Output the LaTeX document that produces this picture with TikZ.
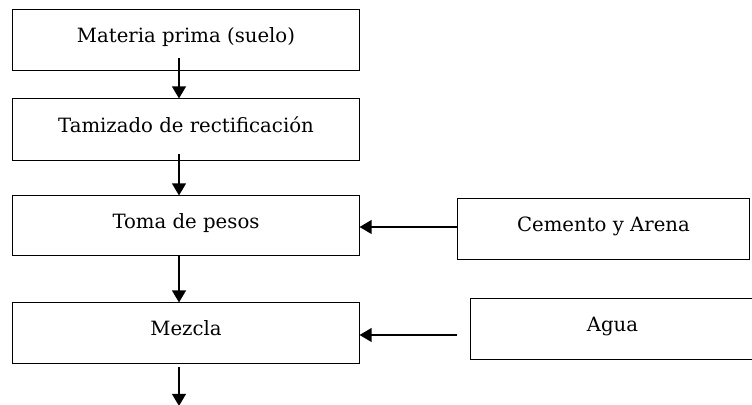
\documentclass[tikz,border=0pt]{standalone}
\usepackage{fontspec}
\setmainfont{DejaVu Serif}
\usepackage{tikz}
\usetikzlibrary{arrows.meta}

\tikzset{
	caja/.style={draw, line width=0.7pt, minimum height=1.5cm, inner sep=0pt, text height=0.35cm, text depth=0.2cm, font=\fontsize{14}{16}\selectfont},
	flecha/.style={line width=1.4pt, -{Triangle[length=3mm,width=3.4mm]}}
}

\begin{document}
\begin{tikzpicture}[x=0.025cm, y=-0.025cm]
\useasboundingbox (0,0) rectangle (752,405);
%process
	\node[caja, minimum width=8.65cm] (materia) at (186,40) {Materia prima (suelo)};
	\node[caja, minimum width=8.65cm, minimum height=1.525cm] (tamizado) at (186,129.5) {Tamizado de rectificación};
	\node[caja, minimum width=8.65cm, minimum height=1.475cm] (pesos) at (186,225.5) {Toma de pesos};
	\node[caja, minimum width=8.65cm] (mezcla) at (186,333) {Mezcla};
%inputs
	\node[caja, minimum width=7.275cm] (cemento) at (603.5,229) {Cemento y Arena};
	\node[caja, minimum width=7.1cm] (agua) at (612.5,329) {Agua};
%arrows
	\coordinate (eje) at (179,0);
	\coordinate (fin) at (179,406);
	\draw[flecha] ([yshift=0.3cm]materia.south -| eje) -- (tamizado.north -| eje);
	\draw[flecha] ([yshift=0.15cm]tamizado.south -| eje) -- (pesos.north -| eje);
	\draw[flecha] (pesos.south -| eje) -- (mezcla.north -| eje);
	\draw[flecha] ([yshift=-0.1cm]mezcla.south -| eje) -- (fin);
	\draw[flecha] ([yshift=0.05cm]cemento.west) -- ([yshift=0.05cm]cemento.west -| pesos.east);
	\draw[flecha] ([yshift=-0.15cm]agua.west -| cemento.west) -- ([yshift=-0.15cm]agua.west -| mezcla.east);
\end{tikzpicture}
\end{document}
